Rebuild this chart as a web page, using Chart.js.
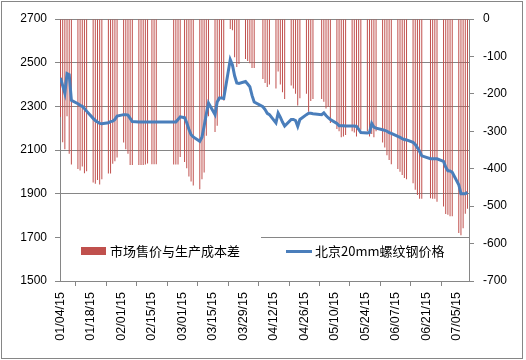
<!DOCTYPE html>
<html><head><meta charset="utf-8">
<script src="https://cdn.jsdelivr.net/npm/chart.js@4/dist/chart.umd.min.js"></script>
<style>html,body{margin:0;padding:0;background:#fff;overflow:hidden}canvas{display:block}</style>
</head><body>
<canvas id="c" width="526" height="360"></canvas>
<script>
const tradeDates = [
 '01/04','01/05','01/06','01/07','01/08','01/09',
 '01/12','01/13','01/14','01/15','01/16',
 '01/19','01/20','01/21','01/22','01/23',
 '01/26','01/27','01/28','01/29','01/30',
 '02/02','02/03','02/04','02/05','02/06',
 '02/09','02/10','02/11','02/12','02/13',
 '02/15','02/16','02/17',
 '02/25','02/26','02/27','02/28',
 '03/02','03/03','03/04','03/05','03/06',
 '03/09','03/10','03/11','03/12','03/13',
 '03/16','03/17','03/18','03/19','03/20',
 '03/23','03/24','03/25','03/26','03/27',
 '03/30','03/31','04/01','04/02','04/03',
 '04/07','04/08','04/09','04/10',
 '04/13','04/14','04/15','04/16','04/17',
 '04/20','04/21','04/22','04/23','04/24',
 '04/27','04/28','04/29','04/30',
 '05/04','05/05','05/06','05/07','05/08',
 '05/11','05/12','05/13','05/14','05/15',
 '05/18','05/19','05/20','05/21','05/22',
 '05/25','05/26','05/27','05/28','05/29',
 '06/01','06/02','06/03','06/04','06/05',
 '06/08','06/09','06/10','06/11','06/12',
 '06/15','06/16','06/17','06/18','06/19',
 '06/23','06/24','06/25','06/26',
 '06/29','06/30','07/01','07/02','07/03',
 '07/06','07/07','07/08','07/09','07/10'
];
const spread = [
 -262,-329,-348,-260,-360,-389,
 -401,-405,-394,-412,-407,
 -437,-440,-430,-442,-428,
 -413,-413,-387,-380,-370,
 -330,-348,-360,-390,-390,
 -390,-390,-390,-389,-386,
 -388,-388,-388,
 -389,-389,-389,-369,
 -382,-399,-421,-434,-445,
 -455,-428,-410,-312,-260,
 -302,-285,-218,-212,-218,
 -27,-30,-102,-128,-120,
 -107,-112,-118,-131,-131,
 -160,-171,-182,-175,
 -186,-140,-175,-196,-214,
 -178,-186,-200,-231,-212,
 -200,-248,-219,-214,
 -214,-221,-239,-235,-278,
 -294,-300,-316,-314,-310,
 -300,-303,-314,-300,-296,
 -300,-314,-307,-316,-300,
 -330,-343,-364,-377,-388,
 -401,-408,-417,-425,-428,
 -439,-456,-470,-480,-480,
 -479,-480,-480,-488,
 -501,-521,-523,-527,-527,
 -572,-578,-559,-520,-507
];
const price = [
 2430,2395,2360,2450,2445,2328,
 2312,2305,2300,2290,2278,
 2245,2235,2228,2222,2220,
 2225,2230,2232,2240,2255,
 2262,2262,2260,2245,2230,
 2228,2228,2228,2228,2228,
 2228,2228,2228,
 2228,2228,2240,2252,
 2248,2225,2195,2170,2160,
 2140,2158,2210,2265,2315,
 2262,2320,2338,2338,2336,
 2514,2490,2440,2407,2405,
 2414,2402,2390,2350,2320,
 2298,2285,2268,2262,
 2224,2269,2250,2228,2210,
 2240,2240,2235,2208,2240,
 2262,2268,2268,2266,
 2262,2270,2258,2248,2240,
 2222,2211,2211,2211,2210,
 2210,2210,2208,2195,2180,
 2178,2180,2222,2205,2200,
 2193,2190,2186,2180,2176,
 2162,2158,2152,2148,2146,
 2135,2125,2110,2094,2073,
 2060,2060,2060,2060,
 2048,2022,2005,2004,1998,
 1941,1900,1900,1900,1906
];
const tickLabels = ['01/04/15','01/18/15','02/01/15','02/15/15','03/01/15','03/15/15','03/29/15','04/12/15','04/26/15','05/10/15','05/24/15','06/07/15','06/21/15','07/05/15'];
const seriesNames = ['市场售价与生产成本差','北京20mm螺纹钢价格'];

const startUTC = Date.UTC(2015,0,4);
function dayIndex(s){const p=s.split('/').map(Number);return Math.round((Date.UTC(2015,p[0]-1,p[1])-startUTC)/86400000);}
const xs = tradeDates.map(dayIndex);
const GRID = '#868686';
const FONT = {family:'"Liberation Sans", Arial, sans-serif', size:12};
const XFONT = {family:'"Liberation Sans", Arial, sans-serif', size:12.5};

const legendPlugin = {
  id:'customLegend',
  afterDatasetsDraw(chart){
    const ctx = chart.ctx; ctx.save();
    ctx.fillStyle = '#fff'; ctx.fillRect(61, 229, 200, 46);
    ctx.fillStyle = '#C0504D'; ctx.fillRect(81, 247, 25, 8);
    ctx.fillStyle = '#000'; ctx.font = '13px "Noto Sans CJK SC", sans-serif';
    ctx.textBaseline = 'middle'; ctx.textAlign = 'left';
    ctx.fillText(chart.data.datasets[1].label, 110, 251);
    ctx.strokeStyle = '#4A7EBB'; ctx.lineWidth = 3;
    ctx.beginPath(); ctx.moveTo(286, 251.5); ctx.lineTo(312, 251.5); ctx.stroke();
    ctx.fillText(chart.data.datasets[0].label, 315, 251);
    ctx.strokeStyle = GRID; ctx.lineWidth = 1; ctx.strokeRect(1.5, 1.5, 521, 357);
    ctx.restore();
  }
};

new Chart(document.getElementById('c'), {
  type:'bar',
  data:{
    datasets:[
      {type:'line', label:seriesNames[1], data:xs.map((x,i)=>({x:x,y:price[i]})), yAxisID:'y',
       borderColor:'#4A7EBB', borderWidth:3, pointRadius:0, tension:0, order:0},
      {type:'bar', label:seriesNames[0], data:xs.map((x,i)=>({x:x,y:spread[i]})), yAxisID:'y1',
       backgroundColor:'#C0504D', barThickness:1, inflateAmount:0, borderWidth:0, order:1}
    ]
  },
  options:{
    responsive:false, animation:false,
    layout:{padding:{top:19,left:0,right:0,bottom:0}},
    plugins:{legend:{display:false}, tooltip:{enabled:false}},
    scales:{
      x:{type:'linear', min:-0.23, max:187.7, offset:false,
         afterBuildTicks(s){s.ticks = tickLabels.map((_,i)=>({value:i*14}));},
         afterFit(s){s.height = 79;},
         ticks:{autoSkip:false, minRotation:90, maxRotation:90, padding:6, color:'#000', font:XFONT,
                callback:(v)=>tickLabels[Math.round(v/14)]},
         grid:{drawOnChartArea:false, tickLength:5, color:GRID},
         border:{color:GRID}},
      y:{position:'left', min:1500, max:2700,
         afterBuildTicks(s){const t=[];for(let v=1500;v<=2700;v+=200)t.push({value:v});s.ticks=t;},
         afterFit(s){s.width = 60;},
         ticks:{padding:8, color:'#000', font:FONT, callback:(v)=>String(v)},
         grid:{color:GRID, tickLength:5},
         border:{color:GRID}},
      y1:{position:'right', min:-700, max:0,
         afterBuildTicks(s){const t=[];for(let v=-700;v<=0;v+=100)t.push({value:v});s.ticks=t;},
         afterFit(s){s.width = 57;},
         ticks:{padding:9, color:'#000', font:FONT, callback:(v)=>String(v)},
         grid:{drawOnChartArea:false, color:GRID, tickLength:5},
         border:{color:GRID}}
    }
  },
  plugins:[legendPlugin]
});
</script>
</body></html>
